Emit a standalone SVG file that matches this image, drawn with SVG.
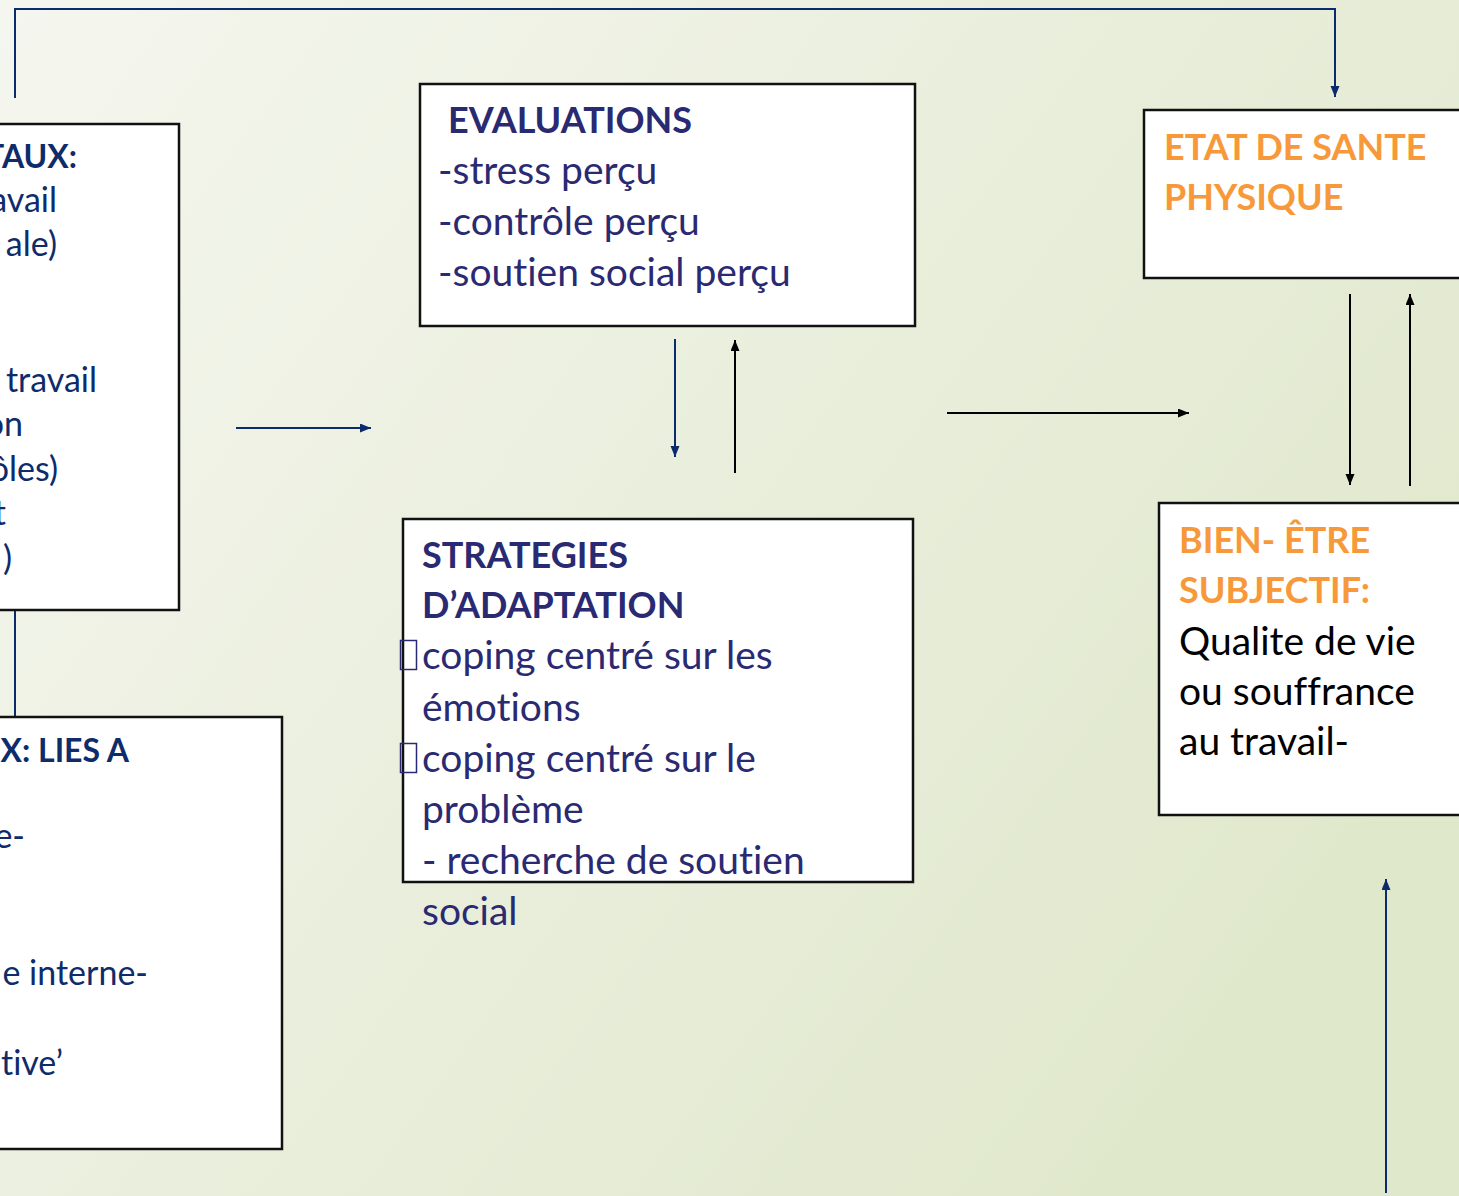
<svg xmlns="http://www.w3.org/2000/svg" width="1459" height="1196" viewBox="0 0 1459 1196">
<defs>
<linearGradient id="bg" x1="0" y1="0" x2="1" y2="0.6">
<stop offset="0" stop-color="#f5f6ef"/>
<stop offset="1" stop-color="#e0e8cc"/>
</linearGradient>
<marker id="ahNavy" markerUnits="userSpaceOnUse" markerWidth="12" markerHeight="10" refX="11" refY="4.5" orient="auto">
<path d="M0,0 L11,4.5 L0,9 z" fill="#0c2b6b"/>
</marker>
<marker id="ahBlack" markerUnits="userSpaceOnUse" markerWidth="12" markerHeight="10" refX="11" refY="4.5" orient="auto">
<path d="M0,0 L11,4.5 L0,9 z" fill="#000"/>
</marker>
<style>
.box{fill:#fff;stroke:#111;stroke-width:2.5}
.t{font-family:Lato,"Liberation Sans",sans-serif;font-size:39px;font-variant-ligatures:none}
.b{font-weight:bold;font-size:36px}
.s{font-size:34px}
.sb{font-weight:bold;font-size:32px}
.navy{fill:#0f2c6a}
.ind{fill:#2a2a72}
.or{fill:#f7993a}
.blk{fill:#000}
.cn{fill:none;stroke:#0c2b6b;stroke-width:2}
.ck{fill:none;stroke:#000;stroke-width:2}
</style>
</defs>
<rect x="0" y="0" width="1459" height="1196" fill="url(#bg)"/>

<g id="connectors">
<path class="cn" d="M15,98 V9 H1335 V97" marker-end="url(#ahNavy)"/>
<path class="cn" d="M15,610 V717"/>
<path class="cn" d="M236,428 H371" marker-end="url(#ahNavy)"/>
<path class="cn" d="M675,339 V457" marker-end="url(#ahNavy)"/>
<path class="ck" d="M735,473 V340" marker-end="url(#ahBlack)"/>
<path class="ck" d="M947,413 H1189" marker-end="url(#ahBlack)"/>
<path class="ck" d="M1350,294 V485" marker-end="url(#ahBlack)"/>
<path class="ck" d="M1410,486 V294" marker-end="url(#ahBlack)"/>
<path class="cn" d="M1386,1193 V879" marker-end="url(#ahNavy)"/>
</g>

<g id="node-facteurs-env">
<rect class="box" x="-10" y="124" width="189" height="486"/>
<g class="t navy" text-anchor="end">
<text class="sb" x="77" y="168">TAUX:</text>
<text class="s" x="57" y="212">avail</text>
<text class="s" x="57" y="256">ale)</text>
<text class="s" x="97" y="392">travail</text>
<text class="s" x="23" y="436">on</text>
<text class="s" x="58" y="481">ôles)</text>
<text class="s" x="6" y="525">t</text>
<text class="s" x="12" y="570">)</text>
</g>
</g>

<g id="node-facteurs-indiv">
<rect class="box" x="-10" y="717" width="292" height="432"/>
<g class="t navy" text-anchor="end">
<text class="sb" x="129" y="762">X: LIES A</text>
<text class="s" x="25" y="848">e-</text>
<text class="s" x="148" y="985">e interne-</text>
<text class="s" x="63" y="1075">tive’</text>
</g>
</g>

<g id="node-evaluations">
<rect class="box" x="420" y="84" width="495" height="242"/>
<g class="t ind">
<text class="b" x="448" y="133">EVALUATIONS</text>
<text x="438" y="184">-stress perçu</text>
<text x="438" y="235">-contrôle perçu</text>
<text x="438" y="286">-soutien social perçu</text>
</g>
</g>

<g id="node-strategies">
<rect class="box" x="403" y="519" width="510" height="363"/>
<rect x="400.5" y="640.5" width="16" height="29" fill="none" stroke="#2a2a72" stroke-width="1.5"/>
<rect x="400.5" y="743.5" width="16" height="29" fill="none" stroke="#2a2a72" stroke-width="1.5"/>
<g class="t ind">
<text class="b" x="422" y="568">STRATEGIES</text>
<text class="b" x="422" y="618">D’ADAPTATION</text>
<text x="422" y="669">coping centré sur les</text>
<text x="422" y="721">émotions</text>
<text x="422" y="772">coping centré sur le</text>
<text x="422" y="823">problème</text>
<text x="422" y="874">- recherche de soutien</text>
<text x="422" y="925">social</text>
</g>
</g>

<g id="node-sante">
<rect class="box" x="1144" y="110" width="330" height="168"/>
<g class="t b or">
<text x="1164" y="160">ETAT DE SANTE</text>
<text x="1164" y="210">PHYSIQUE</text>
</g>
</g>

<g id="node-bienetre">
<rect class="box" x="1159" y="503" width="315" height="312"/>
<g class="t">
<text class="b or" x="1179" y="553">BIEN- ÊTRE</text>
<text class="b or" x="1179" y="603">SUBJECTIF:</text>
<text class="blk" x="1179" y="655">Qualite de vie</text>
<text class="blk" x="1179" y="705">ou souffrance</text>
<text class="blk" x="1179" y="755">au travail-</text>
</g>
</g>
</svg>
